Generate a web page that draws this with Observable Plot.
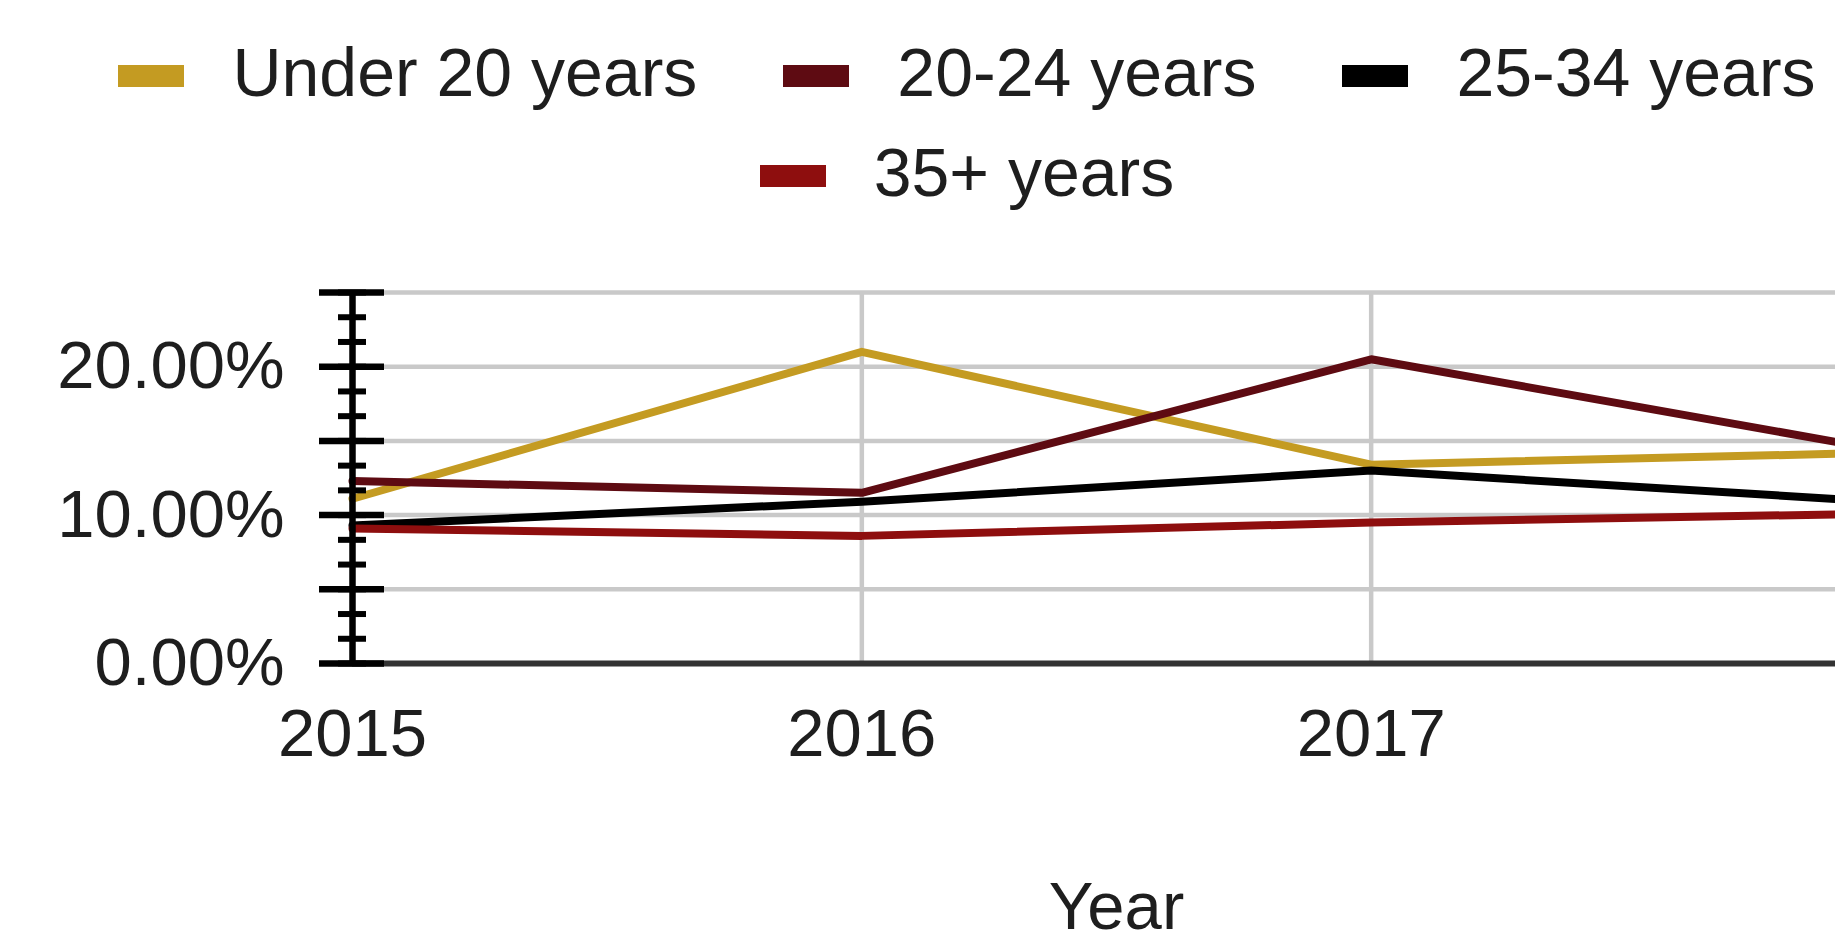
<!DOCTYPE html>
<html>
<head>
<meta charset="utf-8">
<script src="https://cdn.jsdelivr.net/npm/d3@7"></script>
<script src="https://cdn.jsdelivr.net/npm/@observablehq/plot@0.6"></script>
<style>
  html, body { margin: 0; padding: 0; background: #fff; overflow: hidden; }
  #figure { width: 1934px; font-family: "Liberation Sans", Arial, sans-serif; color: #1e1e1e; }
  #legend { height: 222px; box-sizing: border-box; padding-top: 22px; }
  #legend .lg-swatches { justify-content: center; margin: 0; column-gap: 86px; min-height: 0; }
  #legend .lg-swatch { margin-right: 0; height: 100px; }
  #legend .lg-swatch > svg { margin-right: 48px; position: relative; top: 4px; }
  #chart svg { display: block; }
</style>
</head>
<body>
<div id="figure">
  <div id="legend"></div>
  <div id="chart"></div>
</div>
<script>
// Share of births by mother's age group, per year (percent)
const years = [2015, 2016, 2017, 2018];
const seriesNames = ["Under 20 years", "20-24 years", "25-34 years", "35+ years"];
const seriesColors = ["#c49b22", "#5e0b12", "#000000", "#8e0e0e"];
const under20 = [11.1, 21.0, 13.4, 14.2];
const age20to24 = [12.3, 11.5, 20.5, 14.4];
const age25to34 = [9.3, 10.9, 13.0, 10.9];
const age35plus = [9.1, 8.6, 9.5, 10.1];

// Axis ticks
const yearTicks = [2015, 2016, 2017];
const yLabelTicks = [0, 10, 20];
const yGridTicks = [0, 5, 10, 15, 20, 25];
const yMinorTicks = d3.range(0, 16).map(i => i * 5 / 3);

const seriesValues = [under20, age20to24, age25to34, age35plus];
const rows = seriesNames.flatMap((name, s) =>
  years.map((year, i) => ({series: name, year, value: seriesValues[s][i]}))
);

const font = "'Liberation Sans', Arial, sans-serif";
const colorScale = {type: "ordinal", domain: seriesNames, range: seriesColors};

document.getElementById("legend").append(
  Plot.legend({
    color: colorScale,
    className: "lg",
    swatchWidth: 66,
    swatchHeight: 22,
    style: {fontSize: "68px", fontFamily: font, color: "#1e1e1e", background: "transparent"}
  })
);

const chart = Plot.plot({
  width: 1934,
  height: 718,
  marginLeft: 352,
  marginRight: 54,
  marginTop: 70,
  marginBottom: 277,
  style: {fontSize: "67px", fontFamily: font, color: "#1e1e1e", background: "#fff", overflow: "visible"},
  x: {type: "linear", domain: [years[0], years[years.length - 1]]},
  y: {domain: [0, 25], label: null},
  color: colorScale,
  marks: [
    Plot.gridY({ticks: yGridTicks, stroke: "#c9c9c9", strokeOpacity: 1, strokeWidth: 4.5}),
    Plot.gridX({ticks: yearTicks.slice(1), stroke: "#c9c9c9", strokeOpacity: 1, strokeWidth: 4.5}),
    Plot.ruleY([0], {stroke: "#333333", strokeWidth: 6}),
    Plot.line(rows, {x: "year", y: "value", stroke: "series", strokeWidth: 8}),
    // vertical axis line with long (major) and short (minor) cross ticks
    Plot.ruleX([years[0]], {stroke: "#000", strokeWidth: 6.5}),
    Plot.axisY({ticks: yGridTicks, tickSize: 65, dx: 32, fill: "none", stroke: "#000", strokeWidth: 6.5, label: null}),
    Plot.axisY({ticks: yMinorTicks, tickSize: 28, dx: 14, fill: "none", stroke: "#000", strokeWidth: 6, label: null}),
    Plot.axisY({ticks: yLabelTicks, tickSize: 0, tickPadding: 68, tickFormat: d => d.toFixed(2) + "%", label: null}),
    Plot.axisX({
      ticks: yearTicks,
      tickSize: 0,
      tickPadding: 45,
      tickFormat: d => String(d),
      label: "Year",
      labelAnchor: "center",
      labelArrow: "none",
      labelOffset: 265
    })
  ]
});
document.getElementById("chart").append(chart);
</script>
</body>
</html>
